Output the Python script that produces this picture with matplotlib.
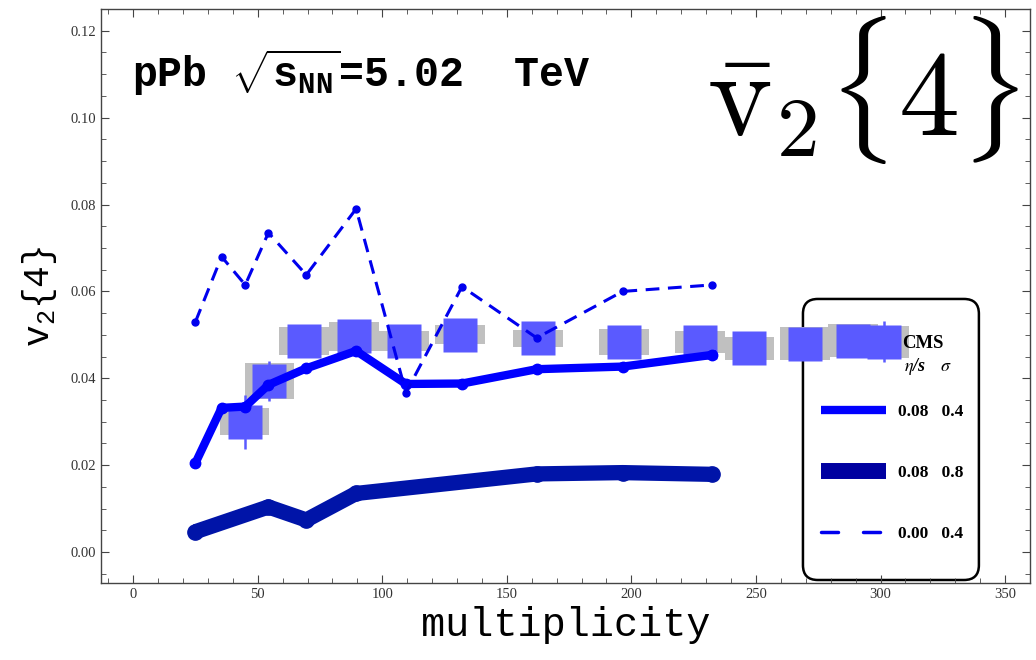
import matplotlib
matplotlib.use("Agg")
import matplotlib.pyplot as plt
from matplotlib.lines import Line2D
from matplotlib.patches import FancyBboxPatch
from matplotlib.ticker import MultipleLocator, FormatStrFormatter

plt.rcParams['mathtext.fontset'] = 'custom'
plt.rcParams['mathtext.rm'] = 'Liberation Mono'
plt.rcParams['mathtext.bf'] = 'Liberation Mono:bold'
plt.rcParams['mathtext.it'] = 'Liberation Mono'

# model curves (hydro, pPb)
mult = [25, 35.5, 45, 54.3, 69.5, 89.5, 109.5, 132, 162, 196.5, 232.5]
v2_eta008_s04 = [0.0205, 0.0332, 0.0335, 0.0385, 0.0423, 0.0463, 0.0387, 0.0388, 0.0421, 0.0427, 0.0454]
v2_eta000_s04 = [0.053, 0.068, 0.0615, 0.0735, 0.0638, 0.079, 0.0367, 0.0611, 0.0493, 0.060, 0.0615]
mult_s08 = [25, 54.3, 69.5, 89.5, 162, 196.5, 232.5]
v2_eta008_s08 = [0.0047, 0.0104, 0.0074, 0.0135, 0.018, 0.0183, 0.0179]

# CMS data
cms_mult = [44.7, 54.7, 68.7, 88.5, 108.6, 131.3, 162.4, 196.9, 227.7, 247.4, 269.6, 288.9, 301.3]
cms_v2 = [0.0300, 0.0394, 0.0486, 0.0497, 0.0486, 0.0500, 0.0492, 0.0483, 0.0483, 0.0469, 0.0480, 0.0487, 0.0484]
cms_stat = [0.0062, 0.0047, 0.002, 0.002, 0.002, 0.002, 0.002, 0.002, 0.002, 0.002, 0.002, 0.002, 0.0047]
cms_sys = [0.0031, 0.0042, 0.0033, 0.0033, 0.0022, 0.0022, 0.002, 0.003, 0.0025, 0.0026, 0.0037, 0.0037, 0.0037]

fig = plt.figure(figsize=(10.36, 6.6), dpi=100)
ax = fig.add_axes([0.0975, 0.1167, 0.8967, 0.8697])

# legend frame (behind the data)
frame = FancyBboxPatch((0.7556, 0.0052), 0.1894, 0.4896, transform=ax.transAxes,
                       boxstyle="round,pad=0,rounding_size=0.016", mutation_aspect=929 / 574,
                       facecolor='white', edgecolor='black', linewidth=1.8, zorder=1)
ax.add_patch(frame)

# systematic boxes
ax.bar(cms_mult, [2 * s for s in cms_sys], width=20,
       bottom=[v - s for v, s in zip(cms_v2, cms_sys)], color='#c0c0c0', zorder=2)
ax.errorbar(cms_mult, cms_v2, yerr=cms_stat, fmt='none', ecolor='#5a5aff',
            elinewidth=1.8, capsize=0, zorder=3)
ax.plot(cms_mult, cms_v2, 's', color='#5a5aff', ms=24.5, mec='none', zorder=3)

ax.plot(mult_s08, v2_eta008_s08, '-o', color='#0014a8', lw=11, ms=11,
        solid_capstyle='butt', zorder=4)
ax.plot(mult, v2_eta008_s04, '-o', color='#0000ff', lw=6, ms=7.5, zorder=5)
ax.plot(mult, v2_eta000_s04, '--o', color='#0000ee', lw=2.2, ms=5,
        dashes=(4.5, 2.8), zorder=5)

ax.set_xlim(-12.9, 360)
ax.set_ylim(-0.0071, 0.125)
ax.xaxis.set_major_locator(MultipleLocator(50))
ax.xaxis.set_minor_locator(MultipleLocator(10))
ax.yaxis.set_major_locator(MultipleLocator(0.02))
ax.yaxis.set_minor_locator(MultipleLocator(0.005))
ax.yaxis.set_major_formatter(FormatStrFormatter('%.2f'))
ax.tick_params(which='both', direction='in', top=True, right=True,
               labelsize=10.5, labelcolor='#333333', color='#444444')
ax.tick_params(which='major', length=6)
ax.tick_params(which='minor', length=3.5)
for lab in ax.get_xticklabels() + ax.get_yticklabels():
    lab.set_family('Liberation Serif')
for s in ax.spines.values():
    s.set_linewidth(1.0)
    s.set_color('#444444')

ax.set_xlabel('multiplicity', family='Liberation Mono', fontsize=29, labelpad=4)
ax.set_ylabel(r'$\mathrm{v}_2\{4\}$', fontsize=26, labelpad=8)

ax.text(0.0334, 0.864, r'pPb $\sqrt{\mathbf{s}_{\mathbf{NN}}}$=5.02  TeV', transform=ax.transAxes,
        family='Liberation Mono', fontweight='bold', fontsize=30, va='baseline', ha='left')
ax.text(0.652, 0.78, r'$\bar{\mathrm{v}}_2\{4\}$', transform=ax.transAxes, math_fontfamily='cm',
        fontsize=88, va='baseline', ha='left', clip_on=False)

# legend
ax.text(0.885, 0.418, 'CMS', transform=ax.transAxes, family='Liberation Serif',
        fontweight='bold', fontsize=13.5, ha='center', va='center', zorder=6)
ax.text(0.876, 0.378, r'$\eta$/s', transform=ax.transAxes, family='Liberation Serif',
        math_fontfamily='stix', fontweight='bold', fontstyle='italic', fontsize=13,
        ha='center', va='center', zorder=6)
ax.text(0.9096, 0.378, r'$\sigma$', transform=ax.transAxes, math_fontfamily='stix',
        fontsize=13, ha='center', va='center', zorder=6)
handles = [Line2D([], [], color='#0000ff', lw=6, solid_capstyle='butt'),
           Line2D([], [], color='#0000a0', lw=11.5, solid_capstyle='butt'),
           Line2D([], [], color='#0000ee', lw=2.5, ls='--', dashes=(4.9, 7.2),
                  dash_capstyle='round')]
labels = ['0.08   0.4', '0.08   0.8', '0.00   0.4']
leg = ax.legend(handles, labels, loc='upper left', bbox_to_anchor=(0.775, 0.3125),
                frameon=False, borderpad=0, borderaxespad=0, handlelength=3.77,
                handletextpad=0.65, labelspacing=2.6,
                prop={'family': 'Liberation Serif', 'weight': 'bold', 'size': 12.5})
leg.set_zorder(6)

fig.savefig('out.png', dpi=100)
